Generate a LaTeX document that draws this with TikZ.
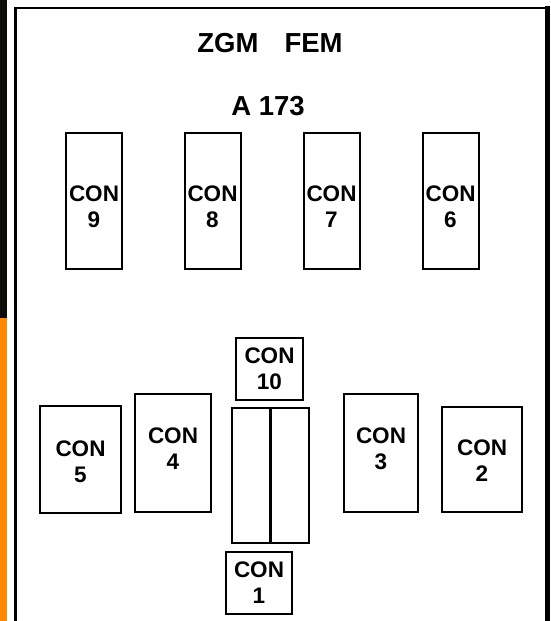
\documentclass[tikz,border=0pt]{standalone}
\usepackage{fontspec}
\setmainfont{Liberation Sans}
\definecolor{strip}{RGB}{12,12,8}
\definecolor{tangerine}{RGB}{255,136,0}
\tikzset{
  conbox/.style={draw=black,line width=2pt,fill=white,inner sep=0pt,
    minimum width=#1},
  conbox/.default=56pt,
  contxt/.style={font=\fontsize{22.5}{26}\selectfont\bfseries,align=center,inner sep=0pt},
  title/.style={font=\fontsize{27.5}{30}\selectfont\bfseries,anchor=base,inner sep=0pt},
}
\begin{document}
\begin{tikzpicture}[x=1pt,y=-1pt]
  \useasboundingbox (0,0) rectangle (550,621);
  % background strip and frame
  \fill[strip] (0,0) rectangle (7,318);
  \fill[tangerine] (0,318) rectangle (7,621);
  \draw[line width=2.5pt] (15.5,625) -- (15.5,8) -- (546,8);
  \draw[line width=5pt] (547.5,5.5) -- (547.5,625);
  % titles
  \node[title] (zgm) at (270,52) {ZGM\hspace{0.95em}FEM};
  \node[title] (a173) at (268,115) {A 173};
  % upper row
  \foreach \n/\x in {9/94,8/212.5,7/331.5,6/450.5}{
    \node[conbox,minimum height=136pt] (c\n) at (\x,201) {};
    \node[contxt] (t\n) at ([yshift=-6pt]c\n.center) {CON\\\n};
  }
  % lower row
  \node[conbox=81pt,minimum height=107pt] (c5) at (80.5,459.5) {};
  \node[contxt] (t5) at ([yshift=-2.5pt]c5.center) {CON\\5};
  \node[conbox=76pt,minimum height=118pt] (c4) at (173,453) {};
  \node[contxt] (t4) at ([yshift=4pt]c4.center) {CON\\4};
  \node[conbox=74pt,minimum height=118pt] (c3) at (381,453) {};
  \node[contxt] (t3) at ([yshift=4.5pt]c3.center) {CON\\3};
  \node[conbox=80pt,minimum height=105pt] (c2) at (482,459.5) {};
  \node[contxt] (t2) at ([yshift=-1.5pt]c2.center) {CON\\2};
  % centre stack
  \node[conbox=67pt,minimum height=62pt,contxt] (c10) at (269.5,369) {CON\\10};
  \node[conbox=38pt,minimum height=135pt] (rl) at (251,475.5) {};
  \node[conbox=38pt,minimum height=135pt] (rr) at (290,475.5) {};
  \node[conbox=66pt,minimum height=62pt,contxt] (c1) at (259,583) {CON\\1};
\end{tikzpicture}
\end{document}
